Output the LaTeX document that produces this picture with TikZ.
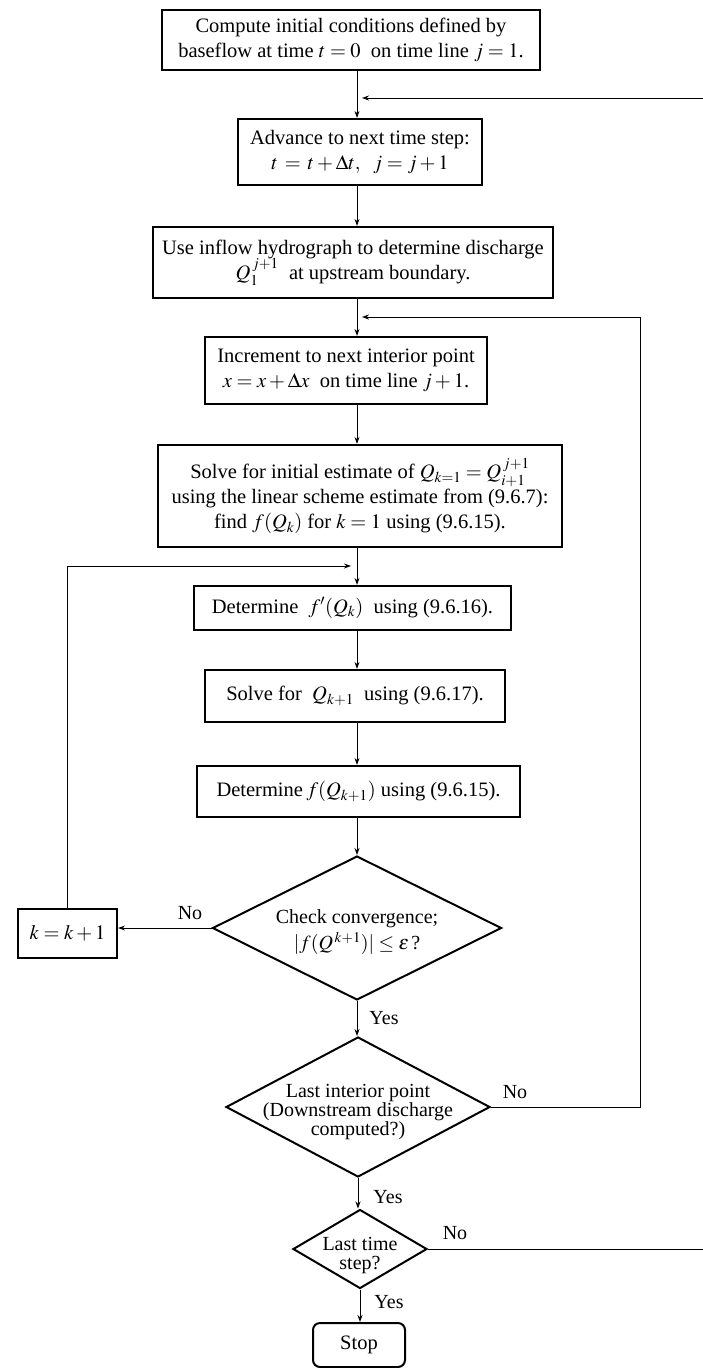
\documentclass[tikz,border=0pt]{standalone}
\usepackage{mathptmx}
\usepackage{fontspec}
\setmainfont{Liberation Serif}
\usetikzlibrary{shapes.geometric,arrows.meta}
\begin{document}
\begin{tikzpicture}[x=1pt,y=-1pt,
  box/.style={draw, line width=2.2pt, align=center, inner sep=0pt, font=\fontsize{20.5}{25}\selectfont},
  dia/.style={draw, diamond, line width=2pt, inner sep=0pt},
  dtext/.style={align=center, font=\fontsize{20}{19}\selectfont},
  conn/.style={line width=0.9pt, -{Stealth[length=7pt,width=5pt]}},
  lab/.style={font=\fontsize{20}{22}\selectfont}]
\useasboundingbox (0,0) rectangle (702,1368);

\node[box, minimum width=378pt, minimum height=60pt] (b1) at (351,40)
  {Compute initial conditions defined by\\ baseflow at time $t=0$ \ on time line $j=1$.};
\node[box, minimum width=244pt, minimum height=66pt] (b2) at (360,152)
  {Advance to next time step:\\ $t\,=\,t+\Delta t,\ \ j=j+1$};
\node[box, minimum width=400pt, minimum height=71pt] (b3) at (353,262.5)
  {Use inflow hydrograph to determine discharge\\ $Q_1^{\,j+1}$ \ at upstream boundary.};
\node[box, minimum width=282pt, minimum height=67pt] (b4) at (346,370.5)
  {Increment to next interior point\\ $x=x+\Delta x$ \ on time line $j+1$.};
\node[box, minimum width=404pt, minimum height=102pt] (b5) at (360,496)
  {Solve for initial estimate of $Q_{k=1}=Q_{i+1}^{\,j+1}$\\ using the linear scheme estimate from (9.6.7):\\ find $f(Q_k)$ for $k=1$ using (9.6.15).};
\node[box, minimum width=317pt, minimum height=44pt] (b6) at (352.5,608)
  {Determine \ $f'(Q_k)$ \ using (9.6.16).};
\node[box, minimum width=300pt, minimum height=52pt] (b7) at (355,696)
  {Solve for \ $Q_{k+1}$ \ using (9.6.17).};
\node[box, minimum width=323pt, minimum height=51pt] (b8) at (358.5,791.5)
  {Determine\,$f(Q_{k+1})$ using (9.6.15).};

\node[dia, minimum width=289pt, minimum height=144pt,
  label={[dtext, font=\fontsize{20}{26}\selectfont, yshift=-4pt]center:Check convergence;\\ $|f(Q^{\,k+1})|\le\epsilon\,$?}] (d1) at (357,928) {};
\node[box, minimum width=99pt, minimum height=49pt] (kb) at (67.5,933.5) {$k=k+1$};
\node[dia, minimum width=264pt, minimum height=140pt,
  label={[dtext, yshift=-5pt]center:Last interior point\\ (Downstream discharge\\ computed?)}] (d2) at (358,1107) {};
\node[dia, minimum width=134pt, minimum height=79pt,
  label={[dtext, yshift=-6pt]center:Last time\\ step?}] (d3) at (360,1249) {};
\node[box, rounded corners=7pt, line width=2pt, minimum width=92pt, minimum height=44pt] (stop) at (359,1345) {Stop};

\coordinate (ax) at (357,0);
\coordinate (j1) at (362,98);
\coordinate (j2) at (362,317);
\coordinate (j3) at (351,566);
\coordinate (o1) at (706,0);
\coordinate (o2) at (640,0);

\draw[conn] (b1.south -| ax) -- (b2.north -| ax);
\draw[conn] (b2.south -| ax) -- (b3.north -| ax);
\draw[conn] (b3.south -| ax) -- (b4.north -| ax);
\draw[conn] (b4.south -| ax) -- (b5.north -| ax);
\draw[conn] (b5.south -| ax) -- (b6.north -| ax);
\draw[conn] (b6.south -| ax) -- (b7.north -| ax);
\draw[conn] (b7.south -| ax) -- (b8.north -| ax);
\draw[conn] (b8.south -| ax) -- (d1.north);
\draw[conn] (d1.south) -- (d2.north -| d1.south);
\draw[conn] (d2.south) -- (d3.north -| d2.south);
\draw[conn] (d3.south) -- (stop.north -| d3.south);

\draw[conn] (d1.west) -- (d1.west -| kb.east);
\draw[conn] (kb.north) |- (j3);
\draw[conn] (d2.east) -- (d2.east -| o2) |- (j2);
\draw[conn] (d3.east) -- (d3.east -| o1) |- (j1);

\node[lab] (n1) at (190,913) {No};
\node[lab] (y1) at (384,1018) {Yes};
\node[lab] (n2) at (515,1092) {No};
\node[lab] (y2) at (388,1197) {Yes};
\node[lab] (n3) at (455,1233) {No};
\node[lab] (y3) at (389,1302) {Yes};
\end{tikzpicture}
\end{document}
